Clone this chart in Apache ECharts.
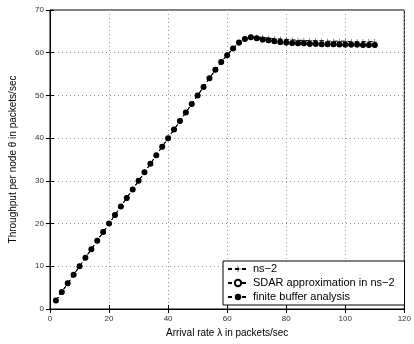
<!DOCTYPE html>
<html><head><meta charset="utf-8">
<script src="https://cdn.jsdelivr.net/npm/echarts@6/dist/echarts.min.js"></script>
<style>html,body{margin:0;padding:0;background:#fff}#c{width:414px;height:344px}</style>
</head><body><div id="c"></div>
<script>
var rate = [2,4,6,8,10,12,14,16,18,20,22,24,26,28,30,32,34,36,38,40,42,44,46,48,50,52,54,56,58,60,62,64,66,68,70,72,74,76,78,80,82,84,86,88,90,92,94,96,98,100,102,104,106,108,110];
var ns2 = [2,4,6,8,10,12,14,16,18,20,22,24,26,28,30,32,34,36,38,40,42,44,46,48,50,52,54,56,
  57.8,59.5,61.1,62.4,63.3,63.7,
  63.7,63.6,63.4,63.3,63.2,63.1,63.0,62.9,62.9,62.8,62.8,62.8,62.7,62.7,62.7,62.7,62.6,62.6,62.6,62.6,62.6];
var sdar = [2,4,6,8,10,12,14,16,18,20,22,24,26,28,30,32,34,36,38,40,42,44,46,48,50,52,54,56,
  57.8,59.4,61.0,62.4,63.2,63.6,
  63.4,63.1,62.9,62.7,62.5,62.4,62.3,62.2,62.2,62.1,62.1,62.0,62.0,62.0,61.9,61.9,61.9,61.9,61.8,61.8,61.8];
var finite = [2,4,6,8,10,12,14,16,18,20,22,24,26,28,30,32,34,36,38,40,42,44,46,48,50,52,54,56,
  57.8,59.4,61.0,62.3,63.2,63.6,
  63.3,63.0,62.8,62.6,62.4,62.3,62.2,62.1,62.1,62.0,62.0,61.9,61.9,61.9,61.9,61.8,61.8,61.8,61.8,61.8,61.8];
var seriesNames = ['ns\u22122', 'SDAR approximation in ns\u22122', 'finite buffer analysis'];
var xName = 'Arrival rate \u03bb in packets/sec';
var yName = 'Throughput per node \u03b8 in packets/sec';

function pairs(ys){ return rate.map(function(x,i){ return [x, ys[i]]; }); }
var FONT = '"Liberation Sans", Arial, sans-serif';
var plus = 'path://M-0.35,-4 H0.35 V-0.35 H4 V0.35 H0.35 V4 H-0.35 V0.35 H-4 V-0.35 H-0.35 Z';

function mk(name, ys, symbol, size, z, bw){
  return {
    name: name, type: 'line', data: pairs(ys), symbol: symbol, symbolSize: size,
    showAllSymbol: true, z: z,
    lineStyle: {color: '#000', width: 1, type: [4, 3]},
    itemStyle: {color: '#000', borderColor: '#000', borderWidth: bw},
    emphasis: {disabled: true}
  };
}

var chart = echarts.init(document.getElementById('c'), null, {renderer: 'canvas'});
chart.setOption({
  animation: false,
  backgroundColor: '#fff',
  grid: {left: 47, right: 1, top: 10, bottom: 35, show: true, borderColor: '#000', borderWidth: 1, backgroundColor: 'transparent'},
  legend: {
    orient: 'vertical', left: 223, top: 261,
    padding: [1, 10, 1, 4], itemGap: 0, itemWidth: 20, itemHeight: 8,
    backgroundColor: '#fff', borderColor: '#000', borderWidth: 1,
    textStyle: {fontFamily: FONT, fontSize: 11, lineHeight: 14, color: '#000'},
    data: seriesNames
  },
  xAxis: [{
    type: 'value', min: 0, max: 120, interval: 20,
    name: xName, nameLocation: 'middle', nameGap: 19,
    nameTextStyle: {fontFamily: FONT, fontSize: 10, color: '#000'},
    axisLine: {lineStyle: {color: '#000', width: 1}},
    axisTick: {inside: true, length: 4, lineStyle: {color: '#000'}},
    axisLabel: {fontFamily: FONT, fontSize: 8, color: '#333', margin: 6},
    splitLine: {show: true, lineStyle: {color: '#999', type: [1, 3], width: 1}}
  }, {
    type: 'value', min: 0, max: 120, interval: 20, position: 'top',
    axisLine: {show: false}, axisLabel: {show: false}, splitLine: {show: false},
    axisTick: {inside: true, length: 4, lineStyle: {color: '#000'}}
  }],
  yAxis: [{
    type: 'value', min: 0, max: 70, interval: 10,
    name: yName, nameLocation: 'middle', nameGap: 32,
    nameTextStyle: {fontFamily: FONT, fontSize: 10, color: '#000'},
    axisLine: {show: true, lineStyle: {color: '#000', width: 1}},
    axisTick: {show: true, inside: true, length: 4, lineStyle: {color: '#000'}},
    axisLabel: {fontFamily: FONT, fontSize: 8, color: '#333', margin: 6},
    splitLine: {show: true, lineStyle: {color: '#999', type: [1, 3], width: 1}}
  }, {
    type: 'value', min: 0, max: 70, interval: 10, position: 'right',
    axisLine: {show: false}, axisLabel: {show: false}, splitLine: {show: false},
    axisTick: {show: true, inside: true, length: 4, lineStyle: {color: '#000'}}
  }],
  series: [
    mk(seriesNames[0], ns2, plus, 5, 2, 0),
    mk(seriesNames[1], sdar, 'emptyCircle', 4, 3, 1),
    mk(seriesNames[2], finite, 'circle', 5, 4, 0)
  ]
});
</script></body></html>
